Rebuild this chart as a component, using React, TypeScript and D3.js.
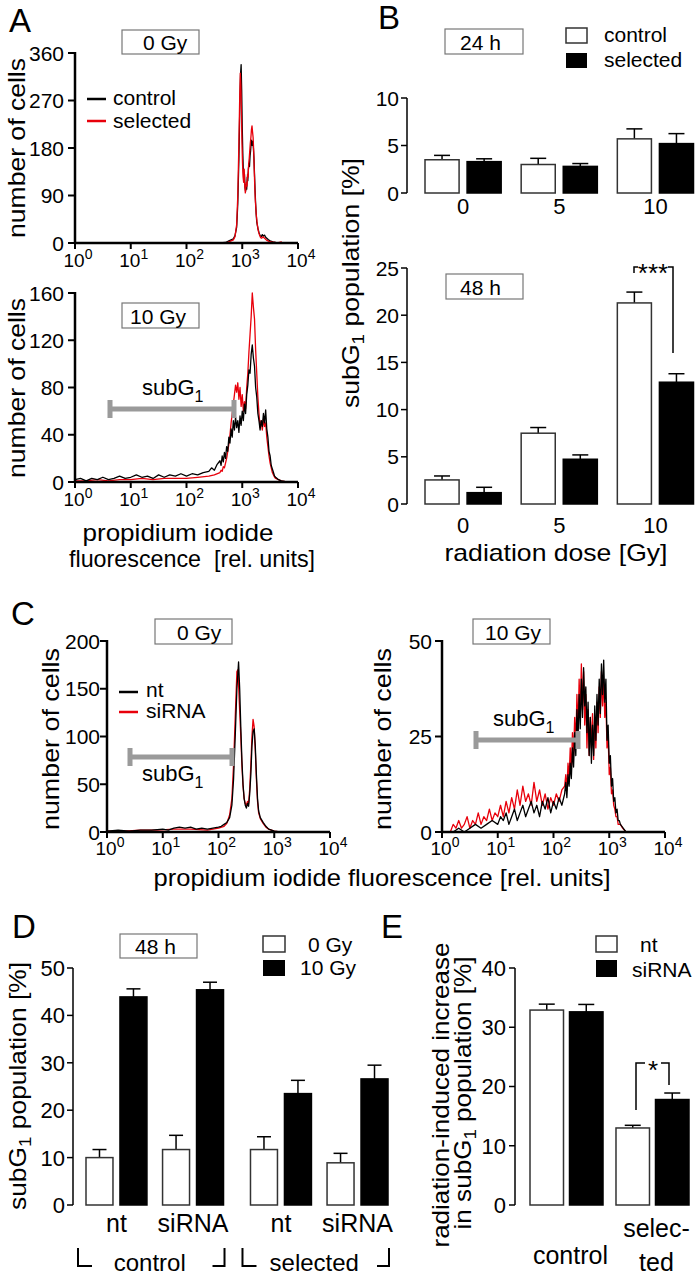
import React from 'react';
import * as d3 from 'd3';

const FONT = '"Liberation Sans", Arial, Helvetica, sans-serif';
type Pt = [number, number];

// ---------- Panel A histograms: [log10 PI fluorescence, number of cells] ----------
const histA0Control: Pt[] = [[0,0],[2.6,0],[2.7,1],[2.76,4],[2.8,6],[2.84,8],[2.87,14],[2.9,30],[2.92,75],[2.94,160],[2.955,250],[2.97,320],[2.98,338],[2.99,290],[3.0,220],[3.01,170],[3.02,135],[3.03,118],[3.04,130],[3.05,105],[3.06,98],[3.07,110],[3.08,102],[3.09,125],[3.1,118],[3.11,140],[3.12,150],[3.13,145],[3.14,165],[3.15,175],[3.16,190],[3.17,195],[3.18,185],[3.19,192],[3.2,180],[3.21,160],[3.22,130],[3.23,100],[3.24,75],[3.25,55],[3.26,40],[3.28,28],[3.3,20],[3.32,14],[3.34,12],[3.36,16],[3.38,13],[3.4,15],[3.42,11],[3.44,9],[3.47,6],[3.5,4],[3.55,2],[3.6,1],[3.66,0],[4,0]];
const histA0Selected: Pt[] = [[0,0],[2.7,0],[2.76,2],[2.8,4],[2.84,6],[2.87,12],[2.9,35],[2.92,90],[2.94,190],[2.955,280],[2.965,322],[2.975,300],[2.985,250],[2.995,190],[3.005,150],[3.015,125],[3.025,115],[3.035,140],[3.045,110],[3.055,95],[3.065,105],[3.075,115],[3.085,108],[3.095,130],[3.105,125],[3.115,150],[3.125,160],[3.135,175],[3.145,190],[3.155,200],[3.165,215],[3.175,222],[3.185,210],[3.195,200],[3.205,175],[3.215,140],[3.225,105],[3.235,80],[3.25,55],[3.27,35],[3.29,22],[3.31,15],[3.33,10],[3.35,9],[3.37,12],[3.39,10],[3.41,8],[3.44,5],[3.48,3],[3.52,2],[3.58,1],[3.63,0],[3.7,2],[3.72,0],[4,0]];
const histA10Control: Pt[] = [[0,2],[0.1,3],[0.2,1],[0.3,3],[0.4,2],[0.5,4],[0.6,2],[0.7,3],[0.8,5],[0.9,3],[1.0,4],[1.1,6],[1.2,4],[1.3,5],[1.4,3],[1.5,6],[1.6,4],[1.7,6],[1.8,5],[1.9,7],[2.0,5],[2.1,7],[2.2,6],[2.3,8],[2.4,9],[2.45,12],[2.5,10],[2.55,15],[2.6,18],[2.62,14],[2.64,22],[2.66,17],[2.68,25],[2.7,20],[2.72,30],[2.74,26],[2.76,38],[2.78,33],[2.8,45],[2.82,38],[2.84,52],[2.86,44],[2.88,55],[2.9,46],[2.92,52],[2.94,42],[2.96,56],[2.98,48],[3.0,60],[3.02,52],[3.04,66],[3.06,58],[3.08,74],[3.1,82],[3.12,95],[3.14,92],[3.16,108],[3.18,116],[3.2,105],[3.22,98],[3.24,80],[3.26,72],[3.28,58],[3.3,52],[3.32,44],[3.34,52],[3.36,47],[3.38,58],[3.4,50],[3.42,61],[3.44,45],[3.46,38],[3.48,26],[3.5,22],[3.52,14],[3.54,11],[3.56,8],[3.58,5],[3.6,4],[3.65,2],[3.7,1],[3.8,0],[4,0]];
const histA10Selected: Pt[] = [[0,1],[0.2,1],[0.4,2],[0.6,1],[0.8,2],[1.0,2],[1.2,3],[1.4,2],[1.6,3],[1.8,3],[2.0,3],[2.2,4],[2.4,5],[2.5,6],[2.6,8],[2.62,10],[2.64,9],[2.66,13],[2.68,12],[2.7,16],[2.72,20],[2.74,26],[2.76,32],[2.78,40],[2.8,50],[2.82,58],[2.84,66],[2.86,74],[2.88,82],[2.9,76],[2.92,84],[2.94,70],[2.96,80],[2.98,64],[3.0,74],[3.02,60],[3.04,68],[3.06,62],[3.08,80],[3.1,92],[3.12,110],[3.14,125],[3.16,140],[3.18,160],[3.2,148],[3.22,138],[3.24,112],[3.26,92],[3.28,72],[3.3,58],[3.32,46],[3.34,52],[3.36,44],[3.38,53],[3.4,47],[3.42,50],[3.44,38],[3.46,30],[3.48,22],[3.5,16],[3.52,12],[3.54,8],[3.56,6],[3.58,4],[3.6,3],[3.65,2],[3.7,1],[3.8,0],[4,0]];

// ---------- Panel C histograms ----------
const histC0Nt: Pt[] = [[0,1],[0.2,2],[0.4,1],[0.6,2],[0.8,2],[1.0,3],[1.1,2],[1.2,4],[1.3,5],[1.4,4],[1.5,5],[1.6,3],[1.7,4],[1.8,3],[1.9,4],[2.0,5],[2.05,6],[2.1,8],[2.15,10],[2.2,15],[2.24,28],[2.27,55],[2.3,100],[2.33,150],[2.36,178],[2.38,150],[2.4,110],[2.42,75],[2.44,50],[2.46,35],[2.48,28],[2.5,25],[2.52,30],[2.54,27],[2.56,40],[2.58,60],[2.6,90],[2.62,105],[2.64,108],[2.66,90],[2.68,60],[2.7,35],[2.72,22],[2.75,15],[2.8,10],[2.85,6],[2.9,3],[2.95,2],[3.0,1],[3.1,0],[4,0]];
const histC0SiRNA: Pt[] = [[0,1],[0.3,1],[0.6,2],[0.9,2],[1.2,3],[1.5,3],[1.8,2],[2.0,4],[2.1,6],[2.15,9],[2.2,18],[2.24,35],[2.27,70],[2.3,120],[2.33,168],[2.35,170],[2.37,140],[2.4,100],[2.42,70],[2.44,48],[2.46,35],[2.48,30],[2.5,28],[2.52,32],[2.54,30],[2.56,45],[2.58,70],[2.6,100],[2.62,118],[2.64,110],[2.66,85],[2.68,55],[2.7,32],[2.72,20],[2.75,14],[2.8,9],[2.85,5],[2.9,3],[2.95,2],[3.0,1],[3.1,0],[4,0]];
const histC10Nt: Pt[] = [[0,0],[0.2,0],[0.3,1],[0.4,0],[0.5,1],[0.6,2],[0.7,1],[0.8,2],[0.9,3],[1.0,2],[1.05,4],[1.1,3],[1.15,5],[1.2,2],[1.25,4],[1.3,6],[1.35,3],[1.4,5],[1.45,7],[1.5,4],[1.55,6],[1.6,8],[1.65,5],[1.7,7],[1.75,4],[1.8,8],[1.85,6],[1.9,9],[1.95,5],[2.0,8],[2.05,6],[2.1,9],[2.15,7],[2.2,10],[2.22,13],[2.24,9],[2.26,15],[2.28,12],[2.3,18],[2.32,14],[2.34,22],[2.36,17],[2.38,26],[2.4,20],[2.42,32],[2.44,24],[2.46,36],[2.48,27],[2.5,40],[2.52,30],[2.54,43],[2.56,33],[2.58,38],[2.6,26],[2.62,34],[2.64,20],[2.66,30],[2.68,18],[2.7,28],[2.72,20],[2.74,33],[2.76,24],[2.78,36],[2.8,28],[2.82,40],[2.84,31],[2.86,44],[2.88,36],[2.9,45],[2.92,34],[2.94,40],[2.96,24],[2.98,28],[3.0,18],[3.02,20],[3.04,12],[3.06,14],[3.08,8],[3.1,9],[3.12,5],[3.14,6],[3.16,3],[3.18,3],[3.2,2],[3.25,1],[3.3,0],[4,0]];
const histC10SiRNA: Pt[] = [[0,0],[0.15,0],[0.2,2],[0.25,1],[0.3,3],[0.35,1],[0.4,2],[0.45,4],[0.5,1],[0.55,3],[0.6,2],[0.65,5],[0.7,2],[0.75,4],[0.8,3],[0.85,6],[0.9,3],[0.95,5],[1.0,4],[1.05,7],[1.1,4],[1.15,8],[1.2,5],[1.25,9],[1.3,6],[1.35,11],[1.4,7],[1.45,12],[1.5,8],[1.55,10],[1.6,7],[1.65,13],[1.7,8],[1.75,11],[1.8,7],[1.85,10],[1.9,6],[1.95,9],[2.0,7],[2.05,10],[2.1,8],[2.15,11],[2.2,12],[2.22,15],[2.24,11],[2.26,18],[2.28,14],[2.3,22],[2.32,16],[2.34,26],[2.36,20],[2.38,30],[2.4,23],[2.42,36],[2.44,27],[2.46,40],[2.48,30],[2.5,44],[2.52,32],[2.54,42],[2.56,28],[2.58,36],[2.6,22],[2.62,32],[2.64,20],[2.66,30],[2.68,22],[2.7,31],[2.72,19],[2.74,30],[2.76,22],[2.78,34],[2.8,26],[2.82,38],[2.84,30],[2.86,42],[2.88,33],[2.9,40],[2.92,30],[2.94,34],[2.96,22],[2.98,25],[3.0,15],[3.02,17],[3.04,10],[3.06,11],[3.08,7],[3.1,6],[3.12,4],[3.14,4],[3.16,2],[3.2,2],[3.24,1],[3.3,0],[4,0]];

const decades = [0, 1, 2, 3, 4];
const ticksA0 = [0, 90, 180, 270, 360];
const ticksA10 = [0, 40, 80, 120, 160];
const ticksC0 = [0, 50, 100, 150, 200];
const ticksC10 = [0, 25, 50];

// ---------- Panel B ----------
const doses = ['0', '5', '10'];
const bSeries = ['control', 'selected'];
const b24Control = [3.5, 3.0, 5.7];
const b24ControlErr = [0.46, 0.65, 1.05];
const b24Selected = [3.3, 2.8, 5.2];
const b24SelectedErr = [0.3, 0.3, 1.05];
const b48Control = [2.55, 7.5, 21.3];
const b48ControlErr = [0.42, 0.6, 1.15];
const b48Selected = [1.2, 4.74, 12.9];
const b48SelectedErr = [0.57, 0.46, 0.9];
const ticksB24 = [0, 5, 10];
const ticksB48 = [0, 5, 10, 15, 20, 25];

// ---------- Panel D ----------
const dGroups = ['control', 'selected'];
const dTransfections = ['nt', 'siRNA'];
const dDoses = ['0 Gy', '10 Gy'];
const dGy0 = [10.0, 11.7, 11.7, 8.9];     // control-nt, control-siRNA, selected-nt, selected-siRNA
const dGy0Err = [1.7, 3.0, 2.7, 2.0];
const dGy10 = [43.9, 45.4, 23.5, 26.6];
const dGy10Err = [1.7, 1.6, 2.8, 2.9];
const ticksD = [0, 10, 20, 30, 40, 50];

// ---------- Panel E ----------
const eGroups = ['control', 'selected'];
const eSeries = ['nt', 'siRNA'];
const eNt = [32.9, 13.0];
const eNtErr = [1.0, 0.45];
const eSiRNA = [32.6, 17.8];
const eSiRNAErr = [1.25, 1.1];
const ticksE = [0, 10, 20, 30, 40];

const RED = '#e8000b';
const GRAY = '#9a9a9a';

function Histogram(p: { left: number; right: number; bottom: number; top: number; yMax: number; yTicks: number[];
  series: { data: Pt[]; color: string }[]; xLabelY: number; yLabelEnd: number }) {
  const x = d3.scaleLinear().domain([0, 4]).range([p.left, p.right]);
  const y = d3.scaleLinear().domain([0, p.yMax]).range([p.bottom, p.top]);
  const line = d3.line<Pt>().x(d => x(d[0])).y(d => y(d[1]));
  return (
    <g>
      {p.series.map((s, i) => (
        <path key={i} d={line(s.data) as string} fill="none" stroke={s.color} strokeWidth={1.3} strokeLinejoin="round" />
      ))}
      <line x1={p.left} x2={p.left} y1={p.top - 1} y2={p.bottom} stroke="#000" strokeWidth={2.5} />
      <line x1={p.left - 1} x2={p.right} y1={p.bottom} y2={p.bottom} stroke="#000" strokeWidth={2.5} />
      {p.yTicks.map(t => (
        <g key={t}>
          <line x1={p.left - 7} x2={p.left} y1={y(t)} y2={y(t)} stroke="#000" strokeWidth={2} />
          <text x={p.yLabelEnd} y={y(t) + 7.5} textAnchor="end" fontSize={21}>{t}</text>
        </g>
      ))}
      {decades.map(d => (
        <g key={d}>
          <line x1={x(d)} x2={x(d)} y1={p.bottom} y2={p.bottom + 6} stroke="#000" strokeWidth={2} />
          <text x={x(d) + 3} y={p.xLabelY} textAnchor="middle" fontSize={19}>10<tspan dy={-8} fontSize={14}>{d}</tspan></text>
        </g>
      ))}
    </g>
  );
}

function YAxis(p: { x: number; y: d3.ScaleLinear<number, number>; ticks: number[]; fontSize: number; gap: number }) {
  const [lo, hi] = p.y.domain();
  return (
    <g>
      <line x1={p.x} x2={p.x} y1={p.y(hi)} y2={p.y(lo)} stroke="#000" strokeWidth={1.5} />
      {p.ticks.map(t => (
        <g key={t}>
          <line x1={p.x - 6} x2={p.x} y1={p.y(t)} y2={p.y(t)} stroke="#000" strokeWidth={1.5} />
          <text x={p.x - p.gap} y={p.y(t) + p.fontSize * 0.36} textAnchor="end" fontSize={p.fontSize}>{t}</text>
        </g>
      ))}
    </g>
  );
}

function ErrBar(p: { x: number; w: number; y0: number; yTop: number; yErr: number; filled: boolean; cap: number }) {
  const cx = p.x + p.w / 2;
  return (
    <g>
      <line x1={cx} x2={cx} y1={p.yTop} y2={p.yErr} stroke="#000" strokeWidth={1.5} />
      <line x1={cx - p.cap / 2} x2={cx + p.cap / 2} y1={p.yErr} y2={p.yErr} stroke="#000" strokeWidth={1.5} />
      <rect x={p.x} y={p.yTop} width={p.w} height={p.y0 - p.yTop} fill={p.filled ? '#000' : '#fff'}
        stroke={p.filled ? '#000' : '#333'} strokeWidth={1.5} />
    </g>
  );
}

function Box(p: { x: number; y: number; w: number; h: number; label: string; tx: number; ty: number }) {
  return (
    <g>
      <rect x={p.x} y={p.y} width={p.w} height={p.h} fill="#fff" stroke="#777" strokeWidth={1.2} />
      <text x={p.tx} y={p.ty} fontSize={21}>{p.label}</text>
    </g>
  );
}

function SubG1Bar(p: { x1: number; x2: number; y: number; lx: number; ly: number }) {
  return (
    <g>
      <path d={`M${p.x1},${p.y - 9}V${p.y + 9}M${p.x1},${p.y}H${p.x2}M${p.x2},${p.y - 9}V${p.y + 9}`} stroke={GRAY} strokeWidth={5} fill="none" />
      <text x={p.lx} y={p.ly} fontSize={22}>subG<tspan dy={7} fontSize={16}>1</tspan></text>
    </g>
  );
}

function RotLabel(p: { x: number; y: number; len: number; children: React.ReactNode; size?: number }) {
  return (
    <text transform={`translate(${p.x},${p.y}) rotate(-90)`} textAnchor="middle" fontSize={p.size ?? 24}
      textLength={p.len} lengthAdjust="spacingAndGlyphs">{p.children}</text>
  );
}

function PanelB() {
  const outer = d3.scaleBand<string>().domain(doses).range([425, 693.5]).paddingInner(0.208);
  const inner = d3.scaleBand<string>().domain(bSeries).range([0, outer.bandwidth()]).paddingInner(0.19);
  const y24 = d3.scaleLinear().domain([0, 10]).range([193, 98]);
  const y48 = d3.scaleLinear().domain([0, 25]).range([504, 268]);
  const rows = [
    { y: y24, c: b24Control, ce: b24ControlErr, s: b24Selected, se: b24SelectedErr, labelY: 214 },
    { y: y48, c: b48Control, ce: b48ControlErr, s: b48Selected, se: b48SelectedErr, labelY: 533 },
  ];
  return (
    <g>
      {rows.map((r, ri) => (
        <g key={ri}>
          <YAxis x={407} y={r.y} ticks={ri === 0 ? ticksB24 : ticksB48} fontSize={21} gap={8} />
          {doses.map((d, i) => (
            <g key={d}>
              <ErrBar x={(outer(d) as number) + (inner('control') as number)} w={inner.bandwidth()} y0={r.y(0)} yTop={r.y(r.c[i])}
                yErr={r.y(r.c[i] + r.ce[i])} filled={false} cap={16} />
              <ErrBar x={(outer(d) as number) + (inner('selected') as number)} w={inner.bandwidth()} y0={r.y(0)} yTop={r.y(r.s[i])}
                yErr={r.y(r.s[i] + r.se[i])} filled={true} cap={16} />
              <text x={(outer(d) as number) + outer.bandwidth() / 2} y={r.labelY} textAnchor="middle" fontSize={22}>{d}</text>
            </g>
          ))}
        </g>
      ))}
      <path d="M634,273V267H638M668,267H673V353" fill="none" stroke="#000" strokeWidth={1.5} />
      <text x={653} y={282} textAnchor="middle" fontSize={26}>***</text>
      <Box x={445} y={29} w={78} h={25} label="24 h" tx={460} ty={50} />
      <Box x={446} y={274} w={77} h={25} label="48 h" tx={460} ty={295} />
      <rect x={566} y={28} width={21} height={15} fill="#fff" stroke="#333" strokeWidth={1.5} />
      <rect x={566} y={53} width={21} height={15} fill="#000" />
      <text x={604} y={42} fontSize={21}>control</text>
      <text x={604} y={67} fontSize={21}>selected</text>
      <RotLabel x={359} y={283} len={250}>subG<tspan dy={5} fontSize={17}>1</tspan><tspan dy={-5}> population [%]</tspan></RotLabel>
      <text x={556} y={561} textAnchor="middle" fontSize={24} textLength={223} lengthAdjust="spacingAndGlyphs">radiation dose [Gy]</text>
      <text x={378} y={29} fontSize={33}>B</text>
    </g>
  );
}

function PanelD() {
  const outer = d3.scaleBand<string>().domain(dGroups).range([86, 388]).paddingInner(0.164);
  const mid = d3.scaleBand<string>().domain(dTransfections).range([0, outer.bandwidth()]).paddingInner(0.204);
  const inner = d3.scaleBand<string>().domain(dDoses).range([0, mid.bandwidth()]).paddingInner(0.206);
  const y = d3.scaleLinear().domain([0, 50]).range([1205, 968]);
  return (
    <g>
      <YAxis x={73} y={y} ticks={ticksD} fontSize={22} gap={8} />
      {dGroups.map((g, gi) => {
        const gx = outer(g) as number;
        const bw = outer.bandwidth();
        return (
          <g key={g}>
            {dTransfections.map((t, ti) => {
              const i = gi * 2 + ti;
              const tx = gx + (mid(t) as number);
              return (
                <g key={t}>
                  <ErrBar x={tx + (inner('0 Gy') as number)} w={inner.bandwidth()} y0={y(0)} yTop={y(dGy0[i])} yErr={y(dGy0[i] + dGy0Err[i])} filled={false} cap={14} />
                  <ErrBar x={tx + (inner('10 Gy') as number)} w={inner.bandwidth()} y0={y(0)} yTop={y(dGy10[i])} yErr={y(dGy10[i] + dGy10Err[i])} filled={true} cap={14} />
                  <text x={tx + mid.bandwidth() / 2} y={1232} textAnchor="middle" fontSize={25}>{t}</text>
                </g>
              );
            })}
            <path d={`M${gx - 8},1248V1266H${gx + 6}M${gx + bw - 11},1266H${gx + bw + 1}V1248`} fill="none" stroke="#000" strokeWidth={2} />
            <text x={gx + bw / 2 - 5} y={1271} textAnchor="middle" fontSize={24}>{g}</text>
          </g>
        );
      })}
      <Box x={120} y={934} w={77} h={24} label="48 h" tx={135} ty={954} />
      <rect x={263} y={936} width={22} height={16} fill="#fff" stroke="#333" strokeWidth={1.5} />
      <rect x={263} y={960} width={22} height={16} fill="#000" />
      <text x={308} y={952} fontSize={21}>0 Gy</text>
      <text x={300} y={975} fontSize={21}>10 Gy</text>
      <RotLabel x={26} y={1086} len={248}>subG<tspan dy={5} fontSize={17}>1</tspan><tspan dy={-5}> population [%]</tspan></RotLabel>
      <text x={12} y={938} fontSize={33}>D</text>
    </g>
  );
}

function PanelE() {
  const outer = d3.scaleBand<string>().domain(eGroups).range([530, 689]).paddingInner(0.151);
  const inner = d3.scaleBand<string>().domain(eSeries).range([0, outer.bandwidth()]).paddingInner(0.152);
  const y = d3.scaleLinear().domain([0, 40]).range([1205, 968]);
  return (
    <g>
      <YAxis x={515} y={y} ticks={ticksE} fontSize={22} gap={9} />
      {eGroups.map((g, gi) => {
        const gx = outer(g) as number;
        return (
          <g key={g}>
            <ErrBar x={gx + (inner('nt') as number)} w={inner.bandwidth()} y0={y(0)} yTop={y(eNt[gi])} yErr={y(eNt[gi] + eNtErr[gi])} filled={false} cap={16} />
            <ErrBar x={gx + (inner('siRNA') as number)} w={inner.bandwidth()} y0={y(0)} yTop={y(eSiRNA[gi])} yErr={y(eSiRNA[gi] + eSiRNAErr[gi])} filled={true} cap={16} />
          </g>
        );
      })}
      <text x={(outer('control') as number) + outer.bandwidth() / 2 + 4} y={1264} textAnchor="middle" fontSize={25}>control</text>
      <text x={(outer('selected') as number) + outer.bandwidth() / 2 + 4} y={1237} textAnchor="middle" fontSize={25}>selec-</text>
      <text x={(outer('selected') as number) + outer.bandwidth() / 2 + 4} y={1271} textAnchor="middle" fontSize={25}>ted</text>
      <path d="M636,1110V1063H645M661,1063H669V1085" fill="none" stroke="#000" strokeWidth={1.5} />
      <text x={653} y={1079} textAnchor="middle" fontSize={26}>*</text>
      <rect x={596} y={936} width={21} height={16} fill="#fff" stroke="#333" strokeWidth={1.5} />
      <rect x={596} y={960} width={21} height={17} fill="#000" />
      <text x={640} y={952} fontSize={21}>nt</text>
      <text x={632} y={977} fontSize={21}>siRNA</text>
      <RotLabel x={449} y={1095} len={305}>radiation-induced increase</RotLabel>
      <RotLabel x={471} y={1093} len={273}>in subG<tspan dy={5} fontSize={17}>1</tspan><tspan dy={-5}> population [%]</tspan></RotLabel>
      <text x={381} y={938} fontSize={33}>E</text>
    </g>
  );
}

export default function App() {
  return (
    <svg width={697} height={1278} style={{ position: 'absolute', left: 0, top: 0, display: 'block' }} fontFamily={FONT}>
      <rect width={697} height={1278} fill="#fff" />
      {/* Panel A */}
      <text x={9} y={32} fontSize={33}>A</text>
      <Histogram left={75} right={298} bottom={243} top={53} yMax={360} yTicks={ticksA0}
        series={[{ data: histA0Control, color: '#000' }, { data: histA0Selected, color: RED }]} xLabelY={267} yLabelEnd={64} />
      <Box x={122} y={30} w={77} h={24} label="0 Gy" tx={143} ty={50} />
      <line x1={87} x2={106} y1={99} y2={99} stroke="#000" strokeWidth={2.5} />
      <line x1={87} x2={106} y1={121} y2={121} stroke={RED} strokeWidth={2.5} />
      <text x={113} y={105} fontSize={21}>control</text>
      <text x={113} y={128} fontSize={21}>selected</text>
      <RotLabel x={25} y={148} len={180}>number of cells</RotLabel>

      <Histogram left={75} right={298} bottom={482} top={293} yMax={160} yTicks={ticksA10}
        series={[{ data: histA10Selected, color: RED }, { data: histA10Control, color: '#000' }]} xLabelY={506} yLabelEnd={64} />
      <Box x={122} y={303} w={77} h={25} label="10 Gy" tx={130} ty={324} />
      <SubG1Bar x1={110} x2={234} y={409} lx={142} ly={395} />
      <RotLabel x={25} y={388} len={180}>number of cells</RotLabel>
      <text x={178} y={541} textAnchor="middle" fontSize={24} textLength={191} lengthAdjust="spacingAndGlyphs">propidium iodide</text>
      <text x={192} y={567} textAnchor="middle" fontSize={24} textLength={246} lengthAdjust="spacingAndGlyphs" style={{ whiteSpace: 'pre' }}>fluorescence  [rel. units]</text>

      <PanelB />

      {/* Panel C */}
      <text x={11} y={625} fontSize={33}>C</text>
      <Histogram left={107} right={330} bottom={832} top={641} yMax={200} yTicks={ticksC0}
        series={[{ data: histC0SiRNA, color: RED }, { data: histC0Nt, color: '#000' }]} xLabelY={855} yLabelEnd={100} />
      <Box x={155} y={619} w={77} h={25} label="0 Gy" tx={177} ty={640} />
      <line x1={119} x2={138} y1={692} y2={692} stroke="#000" strokeWidth={2.5} />
      <line x1={119} x2={138} y1={712} y2={712} stroke={RED} strokeWidth={2.5} />
      <text x={146} y={697} fontSize={21}>nt</text>
      <text x={146} y={718} fontSize={21}>siRNA</text>
      <SubG1Bar x1={130} x2={232} y={757} lx={142} ly={781} />
      <RotLabel x={59} y={739} len={182}>number of cells</RotLabel>

      <Histogram left={442} right={665} bottom={832} top={641} yMax={50} yTicks={ticksC10}
        series={[{ data: histC10SiRNA, color: RED }, { data: histC10Nt, color: '#000' }]} xLabelY={855} yLabelEnd={432} />
      <Box x={473} y={619} w={77} h={25} label="10 Gy" tx={485} ty={640} />
      <SubG1Bar x1={476} x2={578} y={740} lx={493} ly={726} />
      <RotLabel x={391} y={739} len={182}>number of cells</RotLabel>
      <text x={382} y={886} textAnchor="middle" fontSize={24} textLength={457} lengthAdjust="spacingAndGlyphs">propidium iodide fluorescence [rel. units]</text>

      <PanelD />
      <PanelE />
    </svg>
  );
}
